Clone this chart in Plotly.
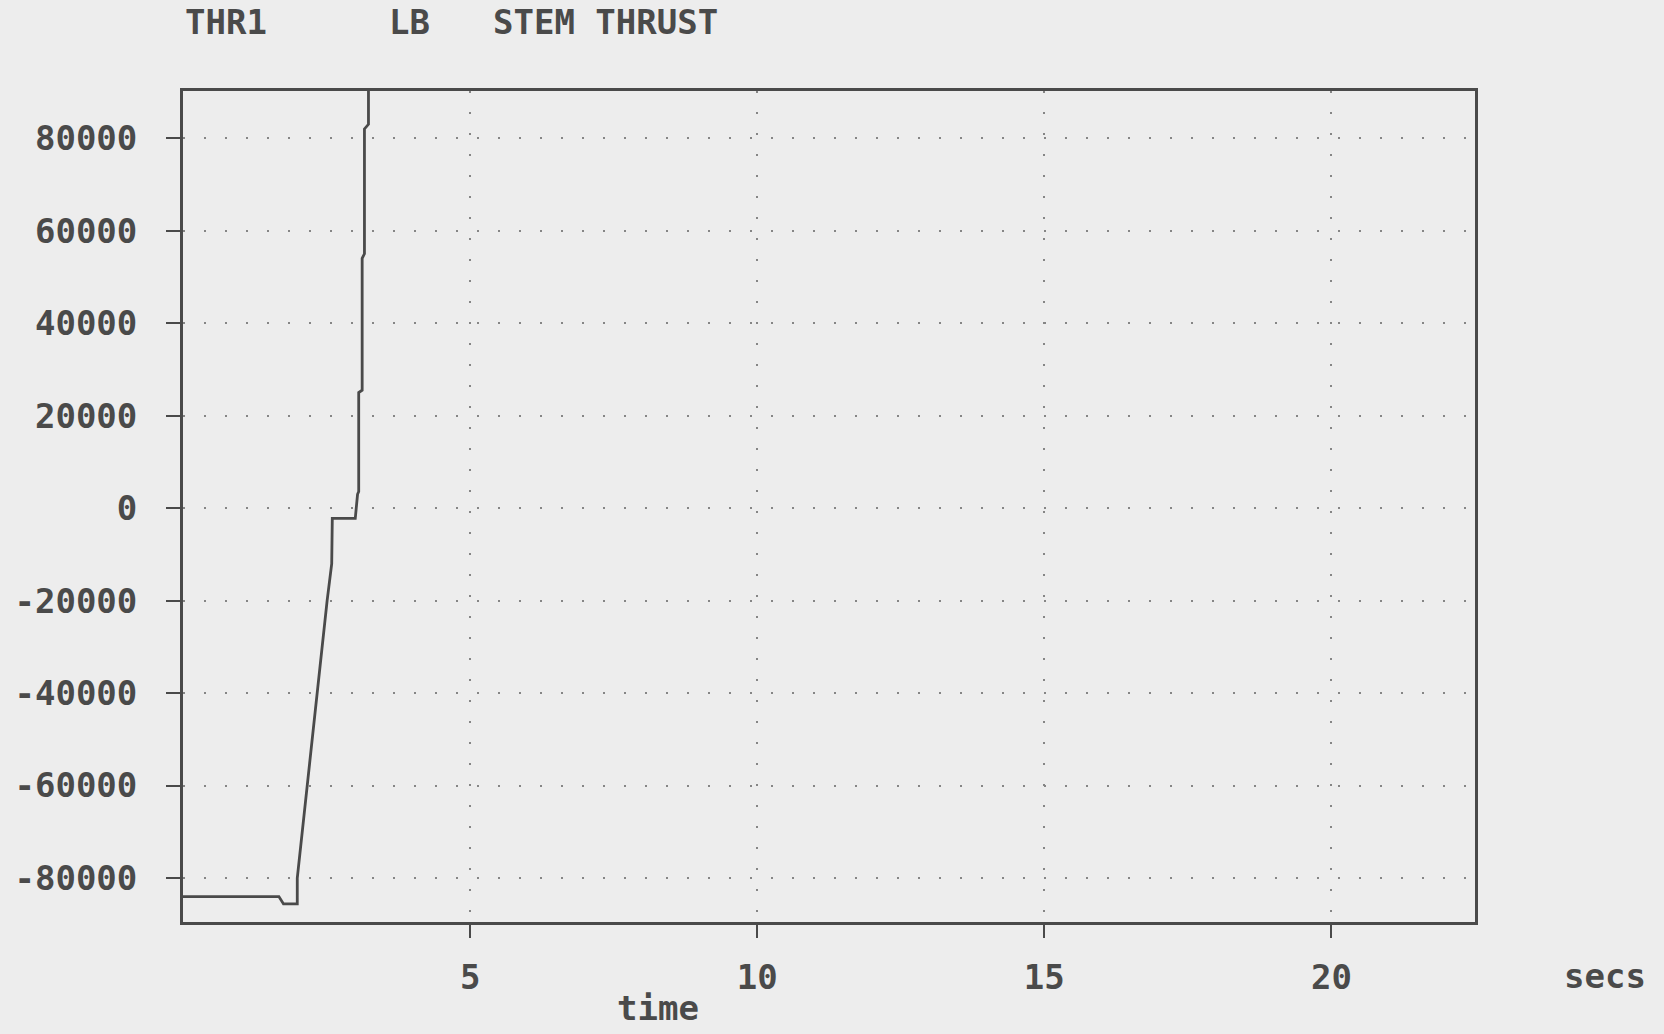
import plotly.graph_objects as go

# Data
time_s = [0, 1.67, 1.75, 1.99, 1.99, 2.16, 2.33, 2.51, 2.59, 2.60, 3.00, 3.04, 3.06,
          3.06, 3.12, 3.12, 3.16, 3.16, 3.23, 3.23]
thrust_lb = [-84000, -84000, -85600, -85600, -80000, -60000, -40000, -20000, -12000,
             -2200, -2200, 3000, 3600, 25000, 25500, 54000, 55000, 82000, 83000, 100000]

x_ticks = [5, 10, 15, 20]
y_ticks = [-80000, -60000, -40000, -20000, 0, 20000, 40000, 60000, 80000]
y_tick_text = [str(v) for v in y_ticks]

FONT = "DejaVu Sans Mono"
INK = "#4a4a4a"
BG = "#ededed"

fig = go.Figure()
fig.add_trace(go.Scatter(x=time_s, y=thrust_lb, mode="lines",
                         line=dict(color=INK, width=2.8), showlegend=False,
                         cliponaxis=True))

fig.update_layout(
    width=1664, height=1034,
    paper_bgcolor=BG, plot_bgcolor=BG,
    margin=dict(l=183, r=189, t=91, b=112),
    font=dict(family=FONT, size=34, color=INK, weight="bold"),
    showlegend=False,
)

fig.update_xaxes(
    range=[0, 22.5], tickvals=x_ticks, ticktext=[str(v) for v in x_ticks],
    showgrid=True, gridcolor="#858585", gridwidth=1.8, griddash="2px,19px",
    showline=True, linecolor=INK, linewidth=2.8, mirror=True,
    ticks="outside", ticklen=13, tickwidth=2, tickcolor=INK,
    tickfont=dict(family=FONT, size=34, color=INK, weight="bold"), ticklabelstandoff=10,
    zeroline=False,
)
fig.update_yaxes(
    range=[-89500, 90200], tickvals=y_ticks, ticktext=y_tick_text,
    showgrid=True, gridcolor="#858585", gridwidth=1.8, griddash="2px,19px",
    showline=True, linecolor=INK, linewidth=2.8, mirror=True,
    ticks="outside", ticklen=14, tickwidth=2, tickcolor=INK,
    tickfont=dict(family=FONT, size=34, color=INK, weight="bold"), ticklabelstandoff=22,
    zeroline=False,
)

ann_font = dict(family=FONT, size=34, color=INK, weight="bold")
fig.add_annotation(text="THR1", xref="paper", yref="paper", x=0, y=1.0,
                   xanchor="left", yanchor="bottom", yshift=47, showarrow=False, font=ann_font)
fig.add_annotation(text="LB", xref="paper", yref="paper", x=(387 - 183) / 1292, y=1.0,
                   xanchor="left", yanchor="bottom", yshift=47, showarrow=False, font=ann_font)
fig.add_annotation(text="STEM THRUST", xref="paper", yref="paper", x=(491 - 183) / 1292, y=1.0,
                   xanchor="left", yanchor="bottom", yshift=47, showarrow=False, font=ann_font)
fig.add_annotation(text="time", xref="paper", yref="paper", x=(658 - 183) / 1292, y=0,
                   xanchor="center", yanchor="top", yshift=-64, showarrow=False, font=ann_font)
fig.add_annotation(text="secs", xref="paper", yref="paper", x=(1605 - 183) / 1292, y=0,
                   xanchor="center", yanchor="top", yshift=-32, showarrow=False, font=ann_font)

fig.write_html("out.html", config={"displayModeBar": False},
               post_script="document.body.style.margin='0';document.body.style.background='#ededed';")
